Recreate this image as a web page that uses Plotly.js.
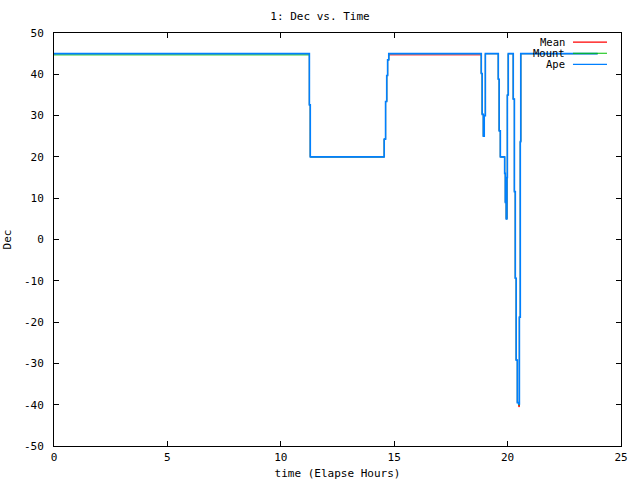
<!DOCTYPE html>
<html>
<head>
<meta charset="utf-8">
<script src="https://cdn.plot.ly/plotly-3.0.1.min.js"></script>
<style>html,body{margin:0;padding:0;background:#fff}#chart{width:640px;height:480px}</style>
</head>
<body>
<div id="chart"></div>
<script>
// Elapsed time (hours) at each step change
const timeHours = [0, 11.26, 11.30, 14.56, 14.62, 14.67, 14.71, 14.76, 18.84, 18.88, 18.93, 18.97, 19.02, 19.59, 19.63, 19.68, 19.87, 19.90, 19.94, 19.97, 19.99, 20.03, 20.25, 20.30, 20.34, 20.38, 20.43, 20.49, 20.52, 20.56, 20.58, 23.97];
// Dec values (held until the next time)
const decMean  = [45.0, 32.6, 20.0, 24.3, 33.4, 39.7, 43.5, 44.7, 40.2, 30.3, 25.0, 30.0, 45.0, 38.8, 26.3, 20.0, 16.0, 9.0, 5.0, 15.0, 35.0, 45.0, 34.0, 11.6, -9.4, -29.2, -39.5, -40.5, -18.8, 23.7, 45.0, 45.0];
const decMount = [44.7, 32.6, 20.0, 24.3, 33.4, 39.7, 43.5, 45.0, 40.2, 30.3, 25.0, 30.0, 45.0, 38.8, 26.3, 20.0, 16.0, 9.0, 5.0, 15.0, 35.0, 45.0, 34.0, 11.6, -9.4, -29.2, -39.5, -40.1, -18.8, 23.7, 45.0, 45.0];
const decApe   = [45.0, 32.6, 20.0, 24.3, 33.4, 39.7, 43.5, 45.0, 40.2, 30.3, 25.0, 30.0, 45.0, 38.8, 26.3, 20.0, 16.0, 9.0, 5.0, 15.0, 35.0, 45.0, 34.0, 11.6, -9.4, -29.2, -39.5, -39.8, -18.8, 23.7, 45.0, 45.0];
const seriesNames = ["Mean", "Mount", "Ape"];
const seriesColors = ["#ff0000", "#00c000", "#0080ff"];
const xTickVals = [0, 5, 10, 15, 20, 25];
const yTickVals = [-50, -40, -30, -20, -10, 0, 10, 20, 30, 40, 50];

const FONT = "DejaVu Sans Mono, Liberation Mono, monospace";
const seriesY = [decMean, decMount, decApe];
const widths = [1, 1, 1.6];

const traces = seriesY.map((ys, i) => ({
  x: timeHours, y: ys, type: "scatter", mode: "lines", name: seriesNames[i],
  line: {color: seriesColors[i], width: widths[i], shape: "hv"},
  showlegend: false, hoverinfo: "skip"
}));

// custom gnuplot-style key: text right-aligned, sample line to the right
const legendRows = [0.978, 0.951, 0.924];
const annotations = seriesNames.map((n, i) => ({
  xref: "paper", yref: "paper", x: 0.905, y: legendRows[i], xanchor: "right", yanchor: "middle",
  text: n, showarrow: false, font: {family: FONT, size: 10.5, color: "#000"}
}));
const shapes = seriesNames.map((n, i) => ({
  type: "line", xref: "paper", yref: "paper", x0: 0.9153, x1: 0.9753, y0: legendRows[i], y1: legendRows[i],
  line: {color: seriesColors[i], width: 1.2}
}));

const axisCommon = {
  showgrid: false, zeroline: false, showline: true, linecolor: "#000", linewidth: 1,
  mirror: "allticks", ticks: "inside", ticklen: 5, tickcolor: "#000", tickwidth: 1,
  tickfont: {family: FONT, size: 11, color: "#000"}
};

const layout = {
  width: 640, height: 480,
  margin: {l: 54, r: 19, t: 33, b: 34, pad: 0},
  paper_bgcolor: "#fff", plot_bgcolor: "#fff",
  title: {text: "1: Dec vs. Time", font: {family: FONT, size: 11, color: "#000"}, x: 0.5, xanchor: "center", y: 0.967, yanchor: "middle"},
  xaxis: Object.assign({}, axisCommon, {
    range: [0, 25], tickvals: xTickVals, ticktext: xTickVals.map(String), ticklabelstandoff: 1,
    title: {text: "time (Elapse Hours)", font: {family: FONT, size: 11, color: "#000"}, standoff: 6}
  }),
  yaxis: Object.assign({}, axisCommon, {
    range: [-50, 50], tickvals: yTickVals, ticktext: yTickVals.map(String), ticklabelstandoff: 7,
    title: {text: "Dec", font: {family: FONT, size: 11, color: "#000"}, standoff: 10}
  }),
  annotations: annotations, shapes: shapes, showlegend: false
};

Plotly.newPlot("chart", traces, layout, {displayModeBar: false, staticPlot: true});
</script>
</body>
</html>
